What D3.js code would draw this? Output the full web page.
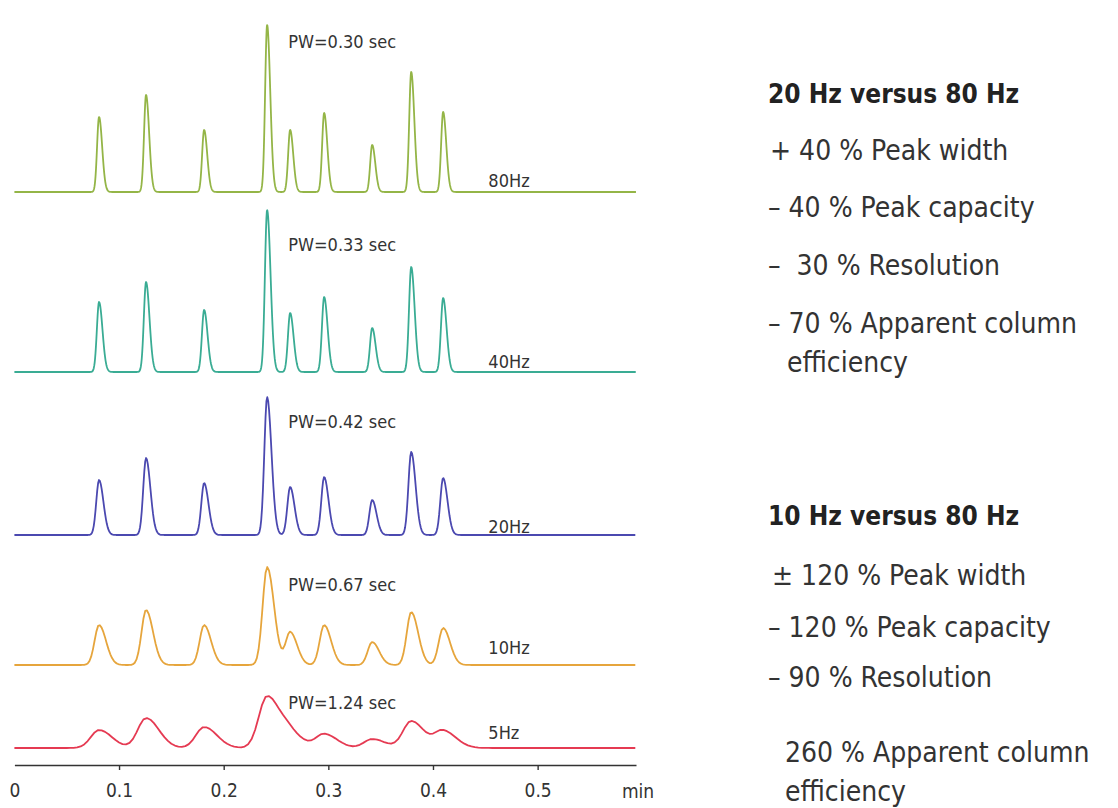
<!DOCTYPE html>
<html>
<head>
<meta charset="utf-8">
<script src="https://cdn.jsdelivr.net/npm/d3@7"></script>
<style>
  html, body { margin: 0; padding: 0; background: #fff; }
  svg { display: block; }
  .cond { font-family: "Liberation Sans Narrow", "DejaVu Sans Condensed", "Arial Narrow", sans-serif; }
</style>
</head>
<body>
<svg id="chart" width="1118" height="808"></svg>
<script>
// Retention times of the nine peaks (min)
const retentionTimes = [0.0809, 0.1258, 0.1813, 0.2415, 0.2635, 0.296, 0.3419, 0.3792, 0.4097];

// Detector data rates and their traces
const dataRates = [80, 40, 20, 10, 5];                 // Hz
const rateLabels = ["80Hz", "40Hz", "20Hz", "10Hz", "5Hz"];
const peakWidths = [0.30, 0.33, 0.42, 0.67, 1.24];      // sec, peak width at half height
const pwLabels = ["PW=0.30 sec", "PW=0.33 sec", "PW=0.42 sec", "PW=0.67 sec", "PW=1.24 sec"];

// Peak heights (mAU) for each data rate
const heights80 = [75, 97, 62, 167, 62, 79, 47, 120, 80];
const heights40 = [70, 90, 62, 162, 59, 75, 44, 105, 74];
const heights20 = [55, 77, 52, 138, 48, 58, 35, 83, 57];
const heights10 = [40, 55, 40, 98, 33, 40, 23, 53, 37];
const heights5  = [18, 30, 21, 52, 13, 14, 9, 27, 17];
const peakHeights = [heights80, heights40, heights20, heights10, heights5];

const traceColors = ["#94b547", "#3aac94", "#4b49b0", "#e6a53c", "#e53a52"];

// Axis ticks
const tickValues = [0, 0.1, 0.2, 0.3, 0.4, 0.5];
const axisUnit = "min";

// Comparison notes
const block1Title = "20 Hz versus 80 Hz";
const block1Lines = ["+ 40 % Peak width", "\u2013 40 % Peak capacity", "\u2013  30 % Resolution", "\u2013 70 % Apparent column", "efficiency"];
const block2Title = "10 Hz versus 80 Hz";
const block2Lines = ["\u00b1 120 % Peak width", "\u2013 120 % Peak capacity", "\u2013 90 % Resolution", "260 % Apparent column", "efficiency"];

// ---- layout ----
const svg = d3.select("#chart");
const x = d3.scaleLinear().domain([0, 0.594]).range([14.4, 636]);
const y = d3.scaleLinear().domain([0, 170]).range([0, -170]);   // per-trace, relative to its baseline
const baselineY = [192, 372, 535, 665, 748];
const pwLabelY = [48, 251, 428, 591, 709];
const rateLabelY = [187, 368, 533, 654, 739];

// Chromatogram signal: sum of slightly tailing peaks, sampled at the detector rate
function signalAt(t, heights, pwSec) {
  const sigma = (pwSec / 60) / 2.3548;
  let s = 0;
  for (let i = 0; i < retentionTimes.length; i++) {
    const d = t - retentionTimes[i];
    const sg = d < 0 ? sigma * 0.9 : sigma * 1.4;
    s += heights[i] * Math.exp(-0.5 * (d / sg) * (d / sg));
  }
  return s;
}

const line = d3.line().x(d => x(d[0])).y(d => y(d[1]));

dataRates.forEach((rate, k) => {
  const dt = 1 / (60 * rate);
  const [t0, t1] = x.domain();
  const pts = [];
  for (let t = t0; t <= t1 + 1e-9; t += dt) pts.push([t, signalAt(t, peakHeights[k], peakWidths[k])]);

  const g = svg.append("g").attr("transform", `translate(0,${baselineY[k]})`);
  g.append("path")
    .datum(pts)
    .attr("d", line)
    .attr("fill", "none")
    .attr("stroke", traceColors[k])
    .attr("stroke-width", 1.8)
    .attr("stroke-linejoin", "round");

  svg.append("text").attr("class", "cond")
    .attr("x", x(0.2617)).attr("y", pwLabelY[k])
    .attr("font-size", 18).attr("fill", "#333")
    .text(pwLabels[k]);

  svg.append("text").attr("class", "cond")
    .attr("x", x(0.4529)).attr("y", rateLabelY[k])
    .attr("font-size", 18).attr("fill", "#333")
    .text(rateLabels[k]);
});

// Time axis
const axis = d3.axisBottom(x)
  .tickValues(tickValues)
  .tickSize(5)
  .tickSizeOuter(0)
  .tickPadding(14)
  .tickFormat(d => d === 0 ? "0" : d3.format(".1f")(d));

const ax = svg.append("g").attr("transform", "translate(0,765)").call(axis);
ax.select(".domain").attr("stroke", "#333").attr("stroke-width", 1.6);
ax.selectAll(".tick line").attr("stroke", "#333").attr("stroke-width", 1.4)
  .filter(d => d === 0).remove();
ax.selectAll(".tick text").attr("class", "cond").attr("font-size", 19).attr("fill", "#333");

svg.append("text").attr("class", "cond")
  .attr("x", 638).attr("y", 798).attr("text-anchor", "middle")
  .attr("font-size", 19).attr("fill", "#333")
  .text(axisUnit);

// Notes on the right
function notes(title, lines, titleY, lineYs, lineX) {
  svg.append("text").attr("class", "cond")
    .attr("x", 768).attr("y", titleY)
    .attr("font-size", 26).attr("font-weight", "bold").attr("fill", "#222")
    .text(title);
  lines.forEach((s, i) => {
    svg.append("text").attr("class", "cond")
      .attr("x", lineX[i]).attr("y", lineYs[i])
      .attr("font-size", 28).attr("fill", "#333")
      .attr("xml:space", "preserve").style("white-space", "pre")
      .text(s);
  });
}
notes(block1Title, block1Lines, 103, [160, 217, 275, 333, 372], [770, 768, 768, 768, 787]);
notes(block2Title, block2Lines, 525, [585, 637, 687, 762, 801], [772, 768, 768, 785, 785]);
</script>
</body>
</html>
